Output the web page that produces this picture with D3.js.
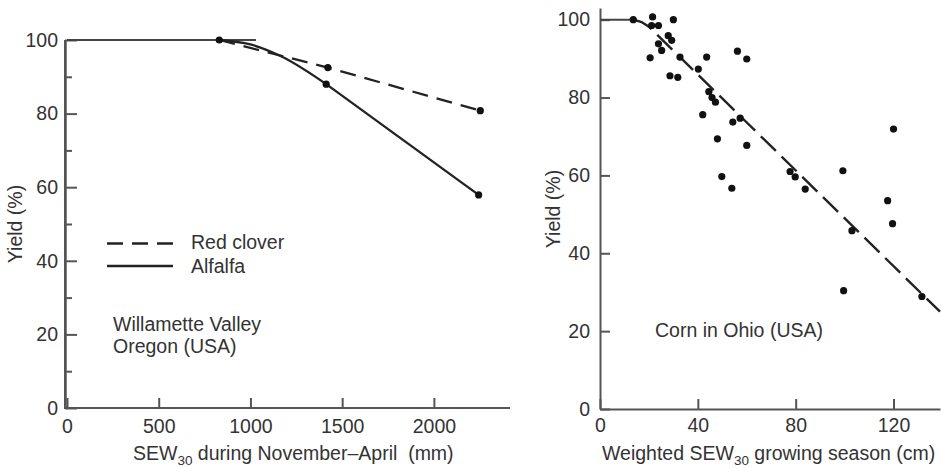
<!DOCTYPE html>
<html>
<head>
<meta charset="utf-8">
<script src="https://cdn.jsdelivr.net/npm/d3@7"></script>
<style>
  body { margin: 0; background: #fff; }
  svg text { font-family: "Liberation Sans", Arial, Helvetica, sans-serif; fill: #333; }
</style>
</head>
<body>
<div id="container"></div>
<script>
/* CONSTANTS AND GLOBALS */
const width = 941,
  height = 468;

/* DATA */
// left panel: Willamette Valley, SEW30 (mm) vs yield (%)
const leftPlateau = [[0, 100], [1030, 100]];
const redCloverLine = [[830, 100], [1422, 92.5], [2253, 80.8]];
const redCloverDots = [[1422, 92.5], [2253, 80.8]];
const alfalfaBend = [[830, 100], [1000, 98.8], [1170, 95.5], [1413, 88]];
const alfalfaDots = [[830, 100], [1413, 88], [2244, 57.9]];
const legendLabels = ["Red clover", "Alfalfa"];
const leftXTicks = [0, 500, 1000, 1500, 2000];
const leftYTicks = [0, 20, 40, 60, 80, 100];
const leftYMinor = [10, 30, 50, 70, 90];

// right panel: corn in Ohio, weighted SEW30 (cm) vs yield (%)
const cornPoints = [
  [13.6, 100], [21.5, 100.7], [30, 100], [21.1, 98.5], [23.9, 98.5],
  [27.9, 95.9], [29.3, 94.7], [23.9, 93.8], [25.2, 92.1], [20.5, 90.2],
  [32.7, 90.4], [43.6, 90.4], [40.2, 87.3], [28.6, 85.6], [31.8, 85.2],
  [44.5, 81.5], [45.8, 80], [47.2, 78.8], [42, 75.6], [54.3, 73.7],
  [57.3, 74.7], [48, 69.4], [60, 67.7], [49.8, 59.7], [53.9, 56.7],
  [77.7, 61], [79.8, 59.6], [56.2, 91.9], [60, 89.9], [120, 71.9],
  [99.3, 61.2], [83.9, 56.5], [117.6, 53.5], [119.6, 47.6], [103, 45.8],
  [99.6, 30.4], [131.6, 28.9]
];
const cornPlateau = [[0, 100], [13.6, 100]];
const cornFit = [[13.6, 100], [17, 99.4], [20, 98.2], [139, 25]];
const rightXTicks = [0, 40, 80, 120];
const rightYTicks = [0, 20, 40, 60, 80, 100];

const FONT = 19.5;
const axisColor = "#555";
const inkColor = "#222";

/* SVG */
const svg = d3.select("#container")
  .append("svg")
  .attr("width", width)
  .attr("height", height);

/* ---------- LEFT PANEL ---------- */
const xL = d3.scaleLinear().domain([0, 2415]).range([67, 510]);
const yL = d3.scaleLinear().domain([0, 100]).range([408, 40]);

// axis lines
svg.append("line")
  .attr("x1", 65).attr("x2", 65)
  .attr("y1", yL(0)).attr("y2", yL(100))
  .attr("stroke", axisColor).attr("stroke-width", 2);
svg.append("line")
  .attr("x1", 64).attr("x2", xL.range()[1])
  .attr("y1", yL(0)).attr("y2", yL(0))
  .attr("stroke", axisColor).attr("stroke-width", 2);

svg.append("g")
  .attr("transform", `translate(65,0)`)
  .call(d3.axisLeft(yL).tickValues(leftYTicks).tickFormat(d3.format("d"))
    .tickSizeInner(-12).tickSizeOuter(0).tickPadding(7));
svg.append("g")
  .attr("transform", `translate(65,0)`)
  .call(d3.axisLeft(yL).tickValues(leftYMinor).tickSizeInner(-7).tickSizeOuter(0).tickFormat(""));

const xAxisL = svg.append("g")
  .attr("transform", `translate(0,${yL(0)})`)
  .call(d3.axisBottom(xL).tickValues(leftXTicks).tickFormat(d3.format("d"))
    .tickSizeInner(-10).tickSizeOuter(0).tickPadding(11));

/* ---------- RIGHT PANEL ---------- */
const xR = d3.scaleLinear().domain([0, 139]).range([600, 940]);
const yR = d3.scaleLinear().domain([0, 103]).range([409, 8]);

svg.append("g")
  .attr("transform", `translate(${xR(0)},0)`)
  .call(d3.axisLeft(yR).tickValues(rightYTicks).tickFormat(d3.format("d"))
    .tickSizeInner(-10).tickSizeOuter(0).tickPadding(10));

svg.append("g")
  .attr("transform", `translate(0,${yR(0)})`)
  .call(d3.axisBottom(xR).tickValues(rightXTicks).tickFormat(d3.format("d"))
    .tickSizeInner(-10).tickSizeOuter(0).tickPadding(9));

// style all axes
svg.selectAll("g").attr("font-size", FONT).attr("font-family", null);
svg.selectAll(".domain").attr("stroke", axisColor).attr("stroke-width", 2);
svg.selectAll(".tick line").attr("stroke", axisColor).attr("stroke-width", 2);
svg.selectAll(".tick text").attr("fill", "#333");
xAxisL.select(".domain").remove();

/* ---------- LINES ---------- */
const lineL = d3.line().x(d => xL(d[0])).y(d => yL(d[1]));
const curveL = d3.line().x(d => xL(d[0])).y(d => yL(d[1])).curve(d3.curveMonotoneX);

svg.append("path")
  .datum(leftPlateau)
  .attr("d", lineL)
  .attr("fill", "none").attr("stroke", "#444").attr("stroke-width", 2);

svg.append("path")
  .datum(redCloverLine)
  .attr("d", lineL)
  .attr("fill", "none").attr("stroke", inkColor).attr("stroke-width", 2.3)
  .attr("stroke-dasharray", "16,9");

// alfalfa: curved bend, then straight to the last point
svg.append("path")
  .datum(alfalfaBend)
  .attr("d", curveL)
  .attr("fill", "none").attr("stroke", inkColor).attr("stroke-width", 2.3);
svg.append("path")
  .datum(alfalfaDots.slice(1))
  .attr("d", lineL)
  .attr("fill", "none").attr("stroke", inkColor).attr("stroke-width", 2.3);

svg.selectAll(".dotL")
  .data(alfalfaDots.concat(redCloverDots))
  .join("circle")
  .attr("class", "dotL")
  .attr("cx", d => xL(d[0]))
  .attr("cy", d => yL(d[1]))
  .attr("r", 3.6)
  .attr("fill", "#111");

// legend
const legend = svg.append("g");
legendLabels.forEach((label, i) => {
  const y = 243.5 + i * 22.5;
  legend.append("line")
    .attr("x1", 107).attr("x2", 173)
    .attr("y1", y).attr("y2", y)
    .attr("stroke", inkColor).attr("stroke-width", 2.3)
    .attr("stroke-dasharray", i === 0 ? "16,9" : null);
  legend.append("text")
    .attr("x", 191)
    .attr("y", y + 5 + i * 2)
    .attr("font-size", FONT)
    .text(label);
});

svg.append("text")
  .attr("x", 113).attr("y", 330.5)
  .attr("font-size", FONT)
  .text("Willamette Valley");
svg.append("text")
  .attr("x", 113).attr("y", 352.5)
  .attr("font-size", FONT)
  .text("Oregon (USA)");

// right panel lines and points
const lineR = d3.line().x(d => xR(d[0])).y(d => yR(d[1]));

svg.append("path")
  .datum(cornPlateau)
  .attr("d", lineR)
  .attr("fill", "none").attr("stroke", "#444").attr("stroke-width", 2);

svg.append("path")
  .datum(cornFit)
  .attr("d", lineR)
  .attr("fill", "none").attr("stroke", inkColor).attr("stroke-width", 2.4)
  .attr("stroke-dasharray", "21,8");

svg.selectAll(".dotR")
  .data(cornPoints)
  .join("circle")
  .attr("class", "dotR")
  .attr("cx", d => xR(d[0]))
  .attr("cy", d => yR(d[1]))
  .attr("r", 3.6)
  .attr("fill", "#111");

svg.append("text")
  .attr("x", 655).attr("y", 336.5)
  .attr("font-size", FONT)
  .text("Corn in Ohio (USA)");

/* ---------- AXIS TITLES ---------- */
function subLabel(x, y, before, after) {
  const t = svg.append("text")
    .attr("x", x).attr("y", y)
    .attr("font-size", FONT)
    .style("white-space", "pre");
  t.append("tspan").text(before);
  t.append("tspan").attr("font-size", 13.5).attr("dy", 5).text("30");
  t.append("tspan").attr("dy", -5).text(after);
  return t;
}
subLabel(133, 460, "SEW", " during November\u2013April  (mm)");
subLabel(602, 460, "Weighted SEW", " growing season (cm)");

svg.append("text")
  .attr("transform", `translate(22,${(yL(0) + yL(100)) / 2}) rotate(-90)`)
  .attr("text-anchor", "middle")
  .attr("font-size", FONT)
  .text("Yield (%)");

svg.append("text")
  .attr("transform", `translate(560,209) rotate(-90)`)
  .attr("text-anchor", "middle")
  .attr("font-size", FONT)
  .text("Yield (%)");
</script>
</body>
</html>
